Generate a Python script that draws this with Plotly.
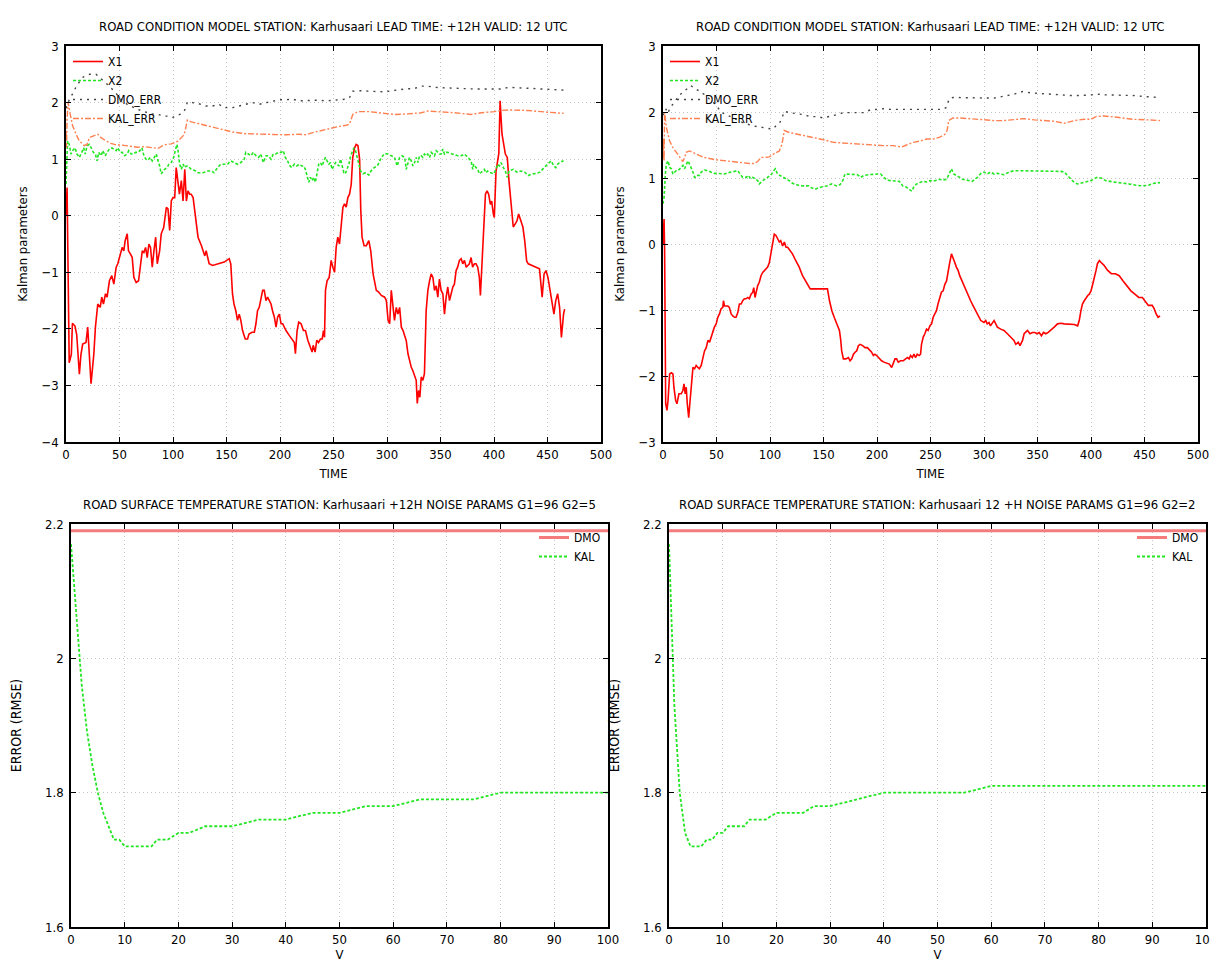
import plotly.graph_objects as go

# ---------------- data: top-left panel (G2=5) ----------------
TL_X1_T = [0, 1, 3, 5, 6, 8.4, 10, 12.5, 14, 15.6, 18.7, 20.3, 21, 23.4, 26, 27.5, 29.7, 32, 33.4, 35, 36.9, 38.4,
           40.6, 42.8, 44.7, 46.9, 48.4, 50.6, 52.5, 54, 55.3, 57.2, 58.4, 60.3, 61.9, 63.4, 65.6, 67.8, 69.7, 71.3,
           72.8, 74.4, 75.9, 77.5, 79, 80.6, 82.2, 83.8, 85.3, 87.5, 89, 91.3, 93.8, 95.3, 96.9, 98.4, 100, 101.6,
           103, 104.7, 106, 107.8, 109.4, 111, 112.5, 114, 115.6, 117, 118.8, 120.3, 123.4, 126.6, 129.7, 131,
           133.8, 137, 143, 147.8, 152.5, 154, 155.6, 157, 158.7, 160.3, 161.9, 163.4, 165, 167.5, 169.7, 171,
           173.8, 176, 177.5, 179, 180.6, 182.2, 183.8, 185.3, 186.9, 188.4, 190, 191.6, 193, 194.7, 196.3, 197.8,
           199.4, 201, 202.5, 205.6, 208.8, 211, 213.4, 214.4, 216, 217.5, 219.7, 221.9, 223.8, 226, 228, 230, 231,
           232.8, 234.4, 236, 237.8, 239.4, 240.6, 241.6, 242.5, 244, 246, 247.8, 249.4, 251, 252.5, 254, 255.6,
           257, 258.8, 260.3, 261.9, 263.4, 265, 266.6, 268, 269.7, 271.2, 272.8, 274.4, 275.5, 276.7, 278.6,
           280.7, 283, 284.8, 287, 288.5, 290, 292.2, 294.7, 297.8, 299.4, 301, 302.5, 304, 305.6, 307, 308.7,
           310.2, 311.8, 313.4, 315, 316.5, 318, 319.6, 321, 322.7, 324.2, 325.8, 327.3, 328.3, 329.5, 330.7, 332,
           333.5, 335, 336.6, 338.2, 339.8, 341.3, 342.9, 344.4, 346, 347.5, 349, 350.6, 352.2, 353.7, 355.3,
           356.8, 358.4, 360, 361.5, 363, 364.6, 366, 367.7, 369.3, 370.8, 372.4, 374, 375.5, 377, 378.6, 380,
           381.7, 383.2, 384.8, 386.3, 387.3, 388.8, 390.4, 392, 393.5, 395, 396.6, 397.8, 399.4, 400.3, 401.9,
           403.4, 404.5, 405.7, 407.5, 410.6, 412.4, 414, 416, 418, 419.7, 421.5, 423, 425, 427, 428.7, 430.5, 432,
           436, 440, 442.5, 445, 446.8, 448.6, 450.4, 452, 454, 456, 457.7, 459.5, 461.3, 463, 465, 466]
TL_X1_V = [0.0, 0.5, -2.6, -2.45, -1.9, -1.95, -2.1, -2.8, -2.45, -2.27, -2.24, -1.97, -2.2, -2.97, -2.45, -1.97,
           -1.56, -1.62, -1.44, -1.56, -1.38, -1.44, -1.15, -1.06, -1.21, -0.91, -0.85, -0.68, -0.56, -0.62, -0.44,
           -0.32, -0.62, -0.68, -0.74, -1.09, -1.18, -1.15, -0.85, -0.62, -0.65, -0.56, -0.74, -0.5, -0.56, -0.91,
           -0.62, -0.38, -0.85, -0.62, -0.32, -0.21, 0.15, 0.12, -0.26, 0.26, 0.32, 0.32, 0.85, 0.62, 0.38, 0.62,
           0.26, 0.82, 0.26, 0.44, 0.38, 0.38, 0.32, 0.09, -0.38, -0.53, -0.71, -0.62, -0.85, -0.88, -0.85, -0.82,
           -0.76, -0.85, -1.38, -1.56, -1.68, -1.85, -1.74, -1.85, -2.03, -2.18, -2.18, -2.09, -2.06, -2.06, -1.91,
           -1.68, -1.62, -1.44, -1.32, -1.32, -1.5, -1.44, -1.5, -1.56, -1.68, -1.79, -1.97, -1.79, -1.74, -1.91,
           -1.91, -2.03, -2.12, -2.18, -2.24, -2.44, -2.03, -1.88, -1.91, -2.03, -2.03, -2.2, -2.29, -2.41, -2.29,
           -2.41, -2.2, -2.24, -2.18, -2.18, -2.03, -2.15, -1.32, -1.15, -1.09, -0.79, -0.91, -1.0, -0.56, -0.38,
           -0.5, -0.26, 0.15, 0.21, 0.15, 0.32, 0.38, 0.56, 1.03, 1.2, 1.26, 1.24, 1.0, 0.09, -0.38, -0.53, -0.53,
           -0.44, -0.62, -1.03, -1.15, -1.32, -1.35, -1.41, -1.44, -1.5, -1.85, -1.91, -1.32, -1.68, -1.85, -1.62,
           -1.74, -1.62, -1.97, -2.03, -2.12, -2.21, -2.44, -2.56, -2.68, -2.74, -2.85, -2.91, -3.32, -3.09, -3.21,
           -2.85, -2.91, -2.79, -1.68, -1.32, -1.15, -1.03, -1.09, -1.32, -1.24, -1.44, -1.12, -1.32, -1.38, -1.74,
           -1.44, -1.26, -1.5, -1.38, -1.26, -1.21, -0.97, -0.91, -0.79, -0.76, -0.85, -0.79, -0.91, -0.88, -0.85,
           -0.74, -0.91, -0.85, -0.85, -0.91, -1.09, -1.41, -0.85, -0.32, 0.38, 0.44, 0.38, 0.2, 0.26, 0.03, -0.03,
           0.79, 1.03, 1.1, 2.03, 1.44, 1.09, 1.03, 0.62, 0.15, -0.2, -0.15, -0.09, 0.03, -0.09, -0.2, -0.44, -0.8,
           -0.85, -0.88, -0.91, -0.94, -1.44, -1.03, -0.97, -1.09, -1.27, -1.5, -1.74, -1.5, -1.38, -1.62, -2.15,
           -1.74, -1.65]

TL_X2_T = [0, 1.5, 3, 4.7, 6.2, 8.4, 10.3, 12.5, 14.7, 16.6, 18, 19.7, 21.9, 23.4, 25.6, 27.5, 29, 30.6, 32.8, 34.4,
           36.6, 38.4, 40.6, 42.8, 44.7, 46.9, 48.4, 50.6, 52.5, 54.7, 57.2, 58.7, 61, 63, 65, 67.2, 69, 71, 72.8,
           74.7, 76.6, 78.7, 80.6, 82.8, 84.4, 86, 87.5, 89, 90.6, 92.2, 94.4, 96.2, 98.4, 100.6, 102.5, 103.7,
           104.7, 106.2, 107.8, 109.4, 111, 112.5, 114, 117, 120.3, 123.4, 128, 132.8, 136, 138.4, 141.6, 144.7,
           147.8, 151, 154, 157, 160.3, 163.4, 166.6, 168, 170.6, 172.8, 175, 177.5, 180, 182, 184.4, 186.9, 189,
           191.6, 193.7, 196, 198.7, 201, 203, 205, 207, 209.4, 211, 213.4, 215.6, 218, 220.3, 222, 223.7, 225.3,
           226.9, 228.4, 230, 231.6, 233, 234.7, 236.2, 237.8, 239.4, 241, 242.5, 244, 245.6, 247.2, 248.7, 250.3,
           252, 253.4, 255, 256.6, 258, 259.7, 261, 262.8, 264.4, 266, 267.5, 269, 270.6, 272, 273.7, 275.3, 277.5,
           280, 283, 285, 288, 291, 294.7, 297.8, 301, 304, 307, 309.6, 311.8, 314, 316.5, 318, 319.6, 321, 322.7,
           324.2, 325.8, 327.3, 329, 330.4, 332, 333.5, 335, 336.6, 338, 339.8, 341.3, 342.9, 344.4, 346, 347.5,
           349, 350.6, 352.2, 353.7, 355.3, 356.8, 360, 363, 366, 369.3, 372.4, 374, 375.5, 377, 378.6, 380.1, 381,
           383.2, 384.8, 386.3, 388, 389.4, 391, 392.5, 394, 395.7, 397, 399.7, 402, 403.4, 405, 406.5, 408.8,
           410.6, 412.4, 414, 418, 421.5, 425, 428.7, 432, 436, 440, 443, 446.8, 450.4, 453.3, 456, 457.7, 459.5,
           461.3, 465]
TL_X2_V = [0.56, 1.32, 1.26, 1.09, 1.15, 1.2, 1.09, 1.03, 1.12, 1.2, 1.09, 1.24, 1.26, 1.2, 1.12, 1.09, 0.97, 1.12,
           1.06, 1.15, 1.06, 1.12, 1.18, 1.2, 1.18, 1.15, 1.2, 1.12, 1.12, 1.06, 1.09, 1.15, 1.09, 1.09, 1.12, 1.12,
           1.15, 1.2, 1.06, 1.0, 0.98, 1.03, 0.97, 1.03, 1.09, 0.97, 0.88, 0.74, 0.79, 0.82, 0.85, 0.91, 0.94, 1.03,
           1.18, 1.26, 1.15, 0.91, 0.82, 0.91, 0.85, 0.88, 0.88, 0.82, 0.8, 0.76, 0.76, 0.79, 0.79, 0.76, 0.85, 0.91,
           0.91, 0.91, 0.97, 0.94, 0.91, 0.94, 1.0, 1.12, 1.09, 1.06, 1.12, 1.06, 1.03, 1.09, 0.94, 1.06, 1.06, 1.0,
           1.09, 1.09, 1.12, 1.12, 1.15, 1.03, 0.97, 0.88, 0.85, 0.91, 0.88, 0.91, 0.88, 0.88, 0.82, 0.68, 0.59,
           0.68, 0.62, 0.68, 0.59, 0.76, 0.91, 0.94, 0.88, 0.97, 1.03, 0.97, 0.91, 0.94, 0.82, 0.88, 0.94, 0.91,
           0.88, 1.0, 0.91, 0.76, 0.74, 0.85, 0.91, 1.06, 1.15, 1.2, 1.15, 1.03, 0.91, 0.79, 0.74, 0.76, 0.72, 0.79,
           0.85, 0.88, 1.03, 1.1, 1.09, 1.06, 1.03, 0.88, 1.03, 1.06, 1.03, 0.82, 0.94, 1.03, 0.97, 0.88, 0.94,
           1.03, 0.94, 1.06, 1.06, 1.03, 1.09, 1.06, 1.09, 1.03, 1.12, 1.09, 1.06, 1.15, 1.12, 1.09, 1.09, 1.18,
           1.09, 1.12, 1.12, 1.1, 1.09, 1.06, 1.06, 1.09, 1.06, 1.03, 1.0, 0.97, 0.82, 0.91, 0.85, 0.82, 0.74, 0.76,
           0.79, 0.82, 0.76, 0.79, 0.76, 0.76, 0.74, 0.82, 0.91, 0.88, 0.94, 0.85, 0.79, 0.68, 0.79, 0.82, 0.77,
           0.79, 0.77, 0.71, 0.74, 0.75, 0.77, 0.85, 0.91, 0.97, 0.88, 0.85, 0.91, 0.94, 0.97]

TL_DMO_T = [0, 3, 6, 10, 16, 22, 28, 34, 40, 46, 52, 57, 62, 67, 73, 80, 86, 92, 97, 100, 104.7, 108, 111, 113.5,
            118, 124, 130.6, 137, 143, 147.8, 155.6, 162, 168, 174.4, 180.6, 187, 193, 199.4, 205.6, 212, 218,
            224.4, 230.6, 237, 243, 249, 255.6, 262, 265, 268, 274, 280, 285, 297.8, 307, 316.5, 325.8, 332, 338,
            344.4, 353.7, 363, 372.4, 381.7, 394, 406.5, 414, 432, 450, 465]
TL_DMO_V = [1.9, 2.05, 2.15, 2.3, 2.45, 2.5, 2.5, 2.4, 2.3, 2.18, 2.05, 1.97, 1.92, 1.88, 1.84, 1.8, 1.79, 1.76,
            1.76, 1.74, 1.78, 1.8, 1.87, 2.01, 2.0, 1.98, 1.94, 1.94, 1.97, 1.91, 1.91, 1.94, 1.97, 2.0, 1.97, 2.0,
            2.03, 2.05, 2.05, 2.06, 2.03, 2.04, 2.04, 2.04, 2.03, 2.04, 2.05, 2.06, 2.09, 2.2, 2.21, 2.2, 2.2, 2.19,
            2.22, 2.24, 2.25, 2.29, 2.29, 2.27, 2.26, 2.25, 2.24, 2.24, 2.24, 2.24, 2.27, 2.25, 2.24, 2.22]

TL_KAL_T = [0, 0.5, 1, 2, 4, 6.2, 9.4, 12.5, 17, 19.7, 21.9, 25, 29.7, 32.8, 37.5, 42, 46.9, 51.6, 56.2, 61, 67,
            73.4, 79.7, 86, 90.6, 93.7, 98.4, 104.7, 109.4, 111, 113.4, 117, 123.4, 129.7, 135, 143, 155.6, 168,
            180.6, 193, 205.6, 218, 224.4, 230.6, 237, 243, 249, 255.6, 262, 265, 268, 272.8, 283, 294.7, 307,
            319.6, 332, 338, 350.6, 363, 378.6, 388, 400.3, 406.5, 414, 432, 450, 465]
TL_KAL_V = [1.5, 1.2, 1.7, 2.0, 1.79, 1.59, 1.44, 1.32, 1.24, 1.26, 1.38, 1.4, 1.44, 1.38, 1.32, 1.28, 1.25, 1.25,
            1.24, 1.22, 1.21, 1.22, 1.21, 1.19, 1.24, 1.26, 1.27, 1.32, 1.41, 1.47, 1.69, 1.66, 1.63, 1.6, 1.57,
            1.53, 1.48, 1.45, 1.44, 1.43, 1.43, 1.44, 1.43, 1.47, 1.5, 1.53, 1.55, 1.58, 1.6, 1.62, 1.79, 1.84,
            1.84, 1.82, 1.79, 1.8, 1.82, 1.85, 1.84, 1.82, 1.79, 1.82, 1.84, 1.86, 1.87, 1.86, 1.83, 1.81]

# ---------------- data: top-right panel (G2=2) ----------------
TR_X1_T = [0, 1, 1.5, 2.5, 3.7, 4.7, 6.2, 7.8, 9.3, 10.2, 11.8, 13, 14.9, 17, 18.6, 19.6, 20.8, 21.7, 22.7, 24,
           24.8, 26.4, 28, 29.5, 31, 32.6, 34, 35.7, 37.3, 38.8, 40.4, 42, 43.5, 45, 46.6, 48, 49.7, 51.2, 52.8,
           54.3, 55.9, 56.5, 57.5, 59, 60.6, 62, 63.7, 65.2, 66.8, 68.3, 69.9, 71.4, 73, 74.5, 76, 77.6, 79.2,
           80.7, 82.3, 83.9, 84.8, 86, 87, 88.5, 90, 91.6, 93.2, 94.7, 96.3, 97.8, 99.4, 101, 102.5, 104, 105.6,
           107, 108.7, 110, 111.8, 113.4, 115, 116.5, 118, 121, 124, 127.3, 130.4, 133.5, 136, 137.6, 143.8, 150,
           153.7, 155.6, 157.8, 160, 162.4, 164.9, 166, 167, 168.6, 171, 173.3, 174.8, 176.4, 178, 179.5, 181,
           182.6, 184.2, 186.6, 188.8, 191, 193.5, 195, 196.6, 198, 199.7, 202.2, 204.3, 206.5, 209, 211.5, 213.7,
           215.2, 216.8, 218.3, 219.9, 222, 224.5, 226.7, 228.6, 230, 231.4, 233, 234.5, 236, 237.6, 239.4, 240.7,
           241.6, 243.2, 244.7, 246.3, 247.8, 249.4, 251, 252.5, 254, 255.6, 257, 258.7, 260.2, 261.8, 263.4, 265,
           266.5, 268, 269.6, 271, 272.7, 274.2, 275.8, 277.3, 279.8, 281, 284.4, 287.5, 290.6, 293.8, 297, 300,
           301.6, 303, 304.7, 306, 309.4, 311, 312.5, 315.6, 318.7, 321.9, 325, 328, 329.7, 332, 333.7, 336, 337.5,
           339, 340.6, 343, 345.3, 347.5, 349.4, 351.6, 353.7, 355.6, 357.8, 360, 362.5, 364, 365.6, 368.7, 371.9,
           375, 378, 381, 384.4, 387.5, 389, 390.6, 392, 393.7, 395.3, 397, 398.4, 400, 401.6, 403, 404.7, 406,
           407.8, 409.4, 411, 412, 415.6, 419, 422.8, 426.4, 430, 433.7, 437.3, 441, 444.6, 448, 450.7, 453.6,
           457.2, 459, 460.9, 462.7, 464.5]
TR_X1_V = [0.0, 0.38, -0.1, -2.42, -2.52, -2.37, -1.97, -1.95, -1.97, -2.17, -2.37, -2.42, -2.27, -2.27, -2.22,
           -2.12, -2.27, -2.17, -2.42, -2.63, -2.47, -2.22, -1.87, -1.89, -1.84, -1.87, -1.89, -1.84, -1.72, -1.62,
           -1.57, -1.46, -1.49, -1.41, -1.31, -1.26, -1.21, -1.11, -1.06, -0.98, -0.96, -0.86, -0.94, -0.94, -0.94,
           -0.96, -1.06, -1.09, -1.11, -1.11, -1.04, -0.91, -0.91, -0.86, -0.83, -0.83, -0.81, -0.83, -0.76, -0.73,
           -0.66, -0.81, -0.71, -0.63, -0.58, -0.48, -0.43, -0.4, -0.38, -0.35, -0.28, -0.15, 0.0, 0.15, 0.13, 0.08,
           0.03, 0.05, -0.03, 0.03, -0.05, -0.05, -0.08, -0.15, -0.25, -0.35, -0.48, -0.56, -0.63, -0.68, -0.68,
           -0.68, -0.68, -0.86, -1.01, -1.11, -1.21, -1.31, -1.44, -1.62, -1.74, -1.74, -1.72, -1.77, -1.74, -1.67,
           -1.64, -1.62, -1.54, -1.52, -1.54, -1.57, -1.57, -1.62, -1.64, -1.69, -1.67, -1.69, -1.74, -1.77, -1.79,
           -1.81, -1.82, -1.87, -1.79, -1.74, -1.74, -1.79, -1.77, -1.77, -1.74, -1.72, -1.74, -1.69, -1.72, -1.67,
           -1.72, -1.67, -1.69, -1.67, -1.52, -1.41, -1.36, -1.29, -1.31, -1.24, -1.21, -1.11, -1.06, -1.01, -0.91,
           -0.81, -0.73, -0.71, -0.61, -0.56, -0.4, -0.28, -0.15, -0.2, -0.28, -0.35, -0.4, -0.48, -0.58, -0.63,
           -0.76, -0.86, -0.96, -1.06, -1.16, -1.19, -1.16, -1.21, -1.19, -1.24, -1.16, -1.21, -1.26, -1.29, -1.31,
           -1.36, -1.41, -1.46, -1.52, -1.49, -1.54, -1.46, -1.36, -1.34, -1.31, -1.36, -1.34, -1.34, -1.36, -1.34,
           -1.39, -1.34, -1.36, -1.34, -1.31, -1.29, -1.26, -1.21, -1.2, -1.21, -1.21, -1.22, -1.22, -1.24, -1.16,
           -1.01, -0.91, -0.86, -0.81, -0.78, -0.76, -0.71, -0.61, -0.53, -0.4, -0.3, -0.25, -0.28, -0.3, -0.32,
           -0.4, -0.45, -0.45, -0.48, -0.56, -0.63, -0.71, -0.76, -0.81, -0.81, -0.86, -0.93, -0.93, -0.98, -1.06,
           -1.11, -1.09]

TR_X2_T = [0, 1, 2.2, 3.1, 4.7, 6.2, 7.8, 9.3, 10.9, 12.4, 14, 15.5, 17, 18.6, 20.2, 21.7, 23.3, 24.8, 26.4, 28,
           29.5, 31, 32.6, 34.2, 35.7, 37.3, 38.8, 42, 45, 48, 51.2, 54.3, 57.5, 60.6, 63.7, 66.8, 69.9, 72, 74.5,
           77.6, 79.8, 81.7, 83.9, 86, 88.5, 90, 93.2, 96.3, 99.4, 101.6, 103.4, 105, 107, 109.3, 111.8, 115, 118,
           121, 124, 130.4, 136, 137.6, 142, 147, 153, 157.8, 162.4, 165.5, 168, 170, 173.3, 178, 181.7, 184.8,
           187.9, 192, 196.6, 200.3, 203.4, 206.5, 209, 212.7, 216.8, 220.8, 224, 227.6, 230.7, 232.6, 234.5, 237,
           240, 243, 246.3, 249.4, 252.5, 255.6, 258.7, 261.8, 265, 267.4, 269.6, 271.7, 274.2, 277.3, 280, 284.4,
           289, 293.8, 297, 300, 303, 306, 309.4, 312.5, 315.6, 318.7, 323.4, 328, 334, 340.6, 346.9, 353, 359,
           365.6, 371.9, 375, 378, 381, 384.4, 387.5, 390.6, 393.7, 397, 400, 403, 406, 409.4, 413.8, 421, 428,
           435.5, 442.7, 448, 453.6, 459, 464.5]
TR_X2_V = [0.61, 0.71, 1.06, 1.21, 1.26, 1.16, 1.14, 1.06, 1.09, 1.11, 1.11, 1.14, 1.16, 1.19, 1.14, 1.19, 1.26,
           1.21, 1.16, 1.09, 1.01, 1.01, 1.04, 1.04, 1.09, 1.11, 1.12, 1.11, 1.09, 1.07, 1.07, 1.07, 1.06, 1.08,
           1.09, 1.1, 1.11, 1.06, 1.01, 1.01, 1.04, 0.99, 1.01, 0.99, 0.96, 0.91, 0.96, 0.99, 1.04, 1.06, 1.11,
           1.14, 1.06, 1.04, 1.01, 0.99, 0.96, 0.92, 0.9, 0.88, 0.88, 0.86, 0.83, 0.86, 0.88, 0.91, 0.88, 0.9, 0.96,
           1.06, 1.06, 1.06, 1.05, 1.01, 1.04, 1.05, 1.06, 1.06, 1.06, 1.01, 0.97, 0.96, 0.96, 0.95, 0.88, 0.86,
           0.82, 0.8, 0.87, 0.91, 0.93, 0.95, 0.94, 0.96, 0.95, 0.96, 0.98, 0.97, 0.98, 1.06, 1.14, 1.06, 1.04,
           1.01, 0.98, 0.96, 0.95, 1.01, 1.07, 1.09, 1.06, 1.09, 1.06, 1.07, 1.06, 1.05, 1.09, 1.11, 1.11, 1.11,
           1.11, 1.11, 1.11, 1.11, 1.1, 1.09, 1.04, 0.98, 0.93, 0.91, 0.92, 0.93, 0.95, 0.96, 0.99, 1.01, 1.0, 0.96,
           0.94, 0.92, 0.91, 0.89, 0.88, 0.89, 0.92, 0.93]

TR_DMO_T = [0, 2.5, 4.5, 6.8, 9.3, 15, 26, 34, 40, 45, 50, 54, 63.7, 74.5, 84, 93, 102.5, 105.6, 108.7, 111.8,
            113.4, 118, 124, 131.4, 137.6, 143.8, 150, 156.2, 162.4, 168.6, 181, 187.3, 193.5, 199.7, 205.9, 212,
            224.5, 237, 249.4, 261.8, 265, 267.4, 271, 277.3, 290.6, 300, 309.4, 318.7, 328, 336, 343.7, 353, 362.5,
            371.9, 381, 390.6, 400, 409.4, 413.8, 424.6, 439, 453.6, 464.5]
TR_DMO_V = [1.95, 2.05, 1.98, 2.07, 2.12, 2.25, 2.4, 2.32, 2.25, 2.17, 2.1, 2.0, 1.92, 1.84, 1.79, 1.77, 1.74,
            1.79, 1.82, 1.94, 2.01, 1.99, 1.98, 1.96, 1.93, 1.93, 1.91, 1.93, 1.96, 1.99, 1.99, 1.99, 2.03, 2.04,
            2.05, 2.04, 2.04, 2.05, 2.04, 2.04, 2.07, 2.2, 2.22, 2.22, 2.21, 2.21, 2.21, 2.24, 2.27, 2.31, 2.29,
            2.28, 2.27, 2.25, 2.25, 2.25, 2.26, 2.27, 2.26, 2.26, 2.25, 2.23, 2.22]

TR_KAL_T = [0, 0.5, 1, 1.5, 3.1, 4.7, 6.2, 9.3, 12.4, 15.5, 18.6, 20.2, 21.7, 24.8, 28, 31, 34.2, 38.8, 43.5, 48,
            52.8, 57.5, 62, 66.8, 71.4, 76, 80.7, 85.4, 88.5, 91.6, 94.7, 99.4, 104, 108.7, 111.2, 113.4, 118, 124,
            131.4, 140.7, 150, 159.3, 168.6, 178, 187.3, 196.6, 205.9, 215.2, 223, 227.6, 233.9, 240, 246.3, 252.5,
            258.7, 263.4, 265.5, 267, 271, 277.3, 290.6, 300, 309.4, 318.7, 328, 337.5, 347, 356, 365.6, 375, 384.4,
            393.7, 400, 404.7, 409.4, 412, 424.6, 439, 453.6, 464.5]
TR_KAL_V = [1.3, 1.6, 1.25, 2.0, 1.77, 1.64, 1.56, 1.46, 1.39, 1.31, 1.25, 1.31, 1.39, 1.41, 1.39, 1.36, 1.34, 1.31,
            1.29, 1.28, 1.27, 1.26, 1.25, 1.24, 1.23, 1.22, 1.22, 1.22, 1.25, 1.31, 1.31, 1.32, 1.37, 1.41, 1.51,
            1.72, 1.69, 1.67, 1.65, 1.62, 1.58, 1.54, 1.53, 1.52, 1.51, 1.49, 1.49, 1.49, 1.47, 1.5, 1.54, 1.56,
            1.59, 1.59, 1.62, 1.66, 1.72, 1.87, 1.91, 1.91, 1.89, 1.88, 1.87, 1.87, 1.88, 1.9, 1.88, 1.87, 1.86,
            1.83, 1.87, 1.89, 1.89, 1.93, 1.94, 1.94, 1.92, 1.89, 1.88, 1.87]

# ---------------- data: bottom panels (RMSE vs V) ----------------
BL_V = [0, 1, 2, 3, 4, 5, 6, 7, 8, 9, 10, 15, 16, 18, 20, 22, 25, 30, 35, 40, 45, 50, 55, 60, 65, 75, 80, 100]
BL_KAL = [2.17, 2.06, 1.96, 1.89, 1.84, 1.80, 1.77, 1.75, 1.73, 1.73, 1.72, 1.72, 1.73, 1.73, 1.74, 1.74, 1.75,
          1.75, 1.76, 1.76, 1.77, 1.77, 1.78, 1.78, 1.79, 1.79, 1.80, 1.80]
BL_DMO = [2.19] * len(BL_V)

BR_V = [0, 1, 2, 3, 4, 6, 7, 8, 9, 10, 11, 14, 15, 18, 20, 25, 27, 30, 40, 55, 60, 100]
BR_KAL = [2.17, 1.93, 1.80, 1.74, 1.72, 1.72, 1.73, 1.73, 1.74, 1.74, 1.75, 1.75, 1.76, 1.76, 1.77, 1.77, 1.78,
          1.78, 1.80, 1.80, 1.81, 1.81]
BR_DMO = [2.19] * len(BR_V)

TOP_TITLE = "ROAD CONDITION MODEL STATION: Karhusaari LEAD TIME: +12H VALID: 12 UTC"
BL_TITLE = "ROAD SURFACE TEMPERATURE STATION: Karhusaari +12H NOISE PARAMS G1=96 G2=5"
BR_TITLE = "ROAD SURFACE TEMPERATURE STATION: Karhusaari 12 +H NOISE PARAMS G1=96 G2=2"

# ---------------- styling ----------------
FONT = "Liberation Sans Narrow, Arial Narrow, DejaVu Sans Condensed, Liberation Sans, sans-serif"
W, H = 1218, 963
RED = "#ff0000"
GREEN = "#22e622"
GRAY = "#444444"
ORANGE = "#ff8050"
PINK = "#f47c7c"


def px_x(p):
    return p / W


def px_y(p):
    return 1 - p / H


fig = go.Figure()


def add_top(xa, ya, lg, T1, V1, T2, V2, T3, V3, T4, V4):
    fig.add_trace(go.Scatter(x=T1, y=V1, name="X1", mode="lines", xaxis=xa, yaxis=ya, legend=lg,
                             line=dict(color=RED, width=1.6)))
    fig.add_trace(go.Scatter(x=T2, y=V2, name="X2", mode="lines", xaxis=xa, yaxis=ya, legend=lg,
                             line=dict(color=GREEN, width=1.6, dash="3px,2px")))
    fig.add_trace(go.Scatter(x=T3, y=V3, name="DMO_ERR", mode="lines", xaxis=xa, yaxis=ya, legend=lg,
                             line=dict(color=GRAY, width=1.4, dash="2px,5px")))
    fig.add_trace(go.Scatter(x=T4, y=V4, name="KAL_ERR", mode="lines", xaxis=xa, yaxis=ya, legend=lg,
                             line=dict(color=ORANGE, width=1.4, dash="6px,2px,2px,2px")))


add_top("x", "y", "legend", TL_X1_T, TL_X1_V, TL_X2_T, TL_X2_V, TL_DMO_T, TL_DMO_V, TL_KAL_T, TL_KAL_V)
add_top("x2", "y2", "legend2", TR_X1_T, TR_X1_V, TR_X2_T, TR_X2_V, TR_DMO_T, TR_DMO_V, TR_KAL_T, TR_KAL_V)

for xa, ya, lg, V, D, K in [("x3", "y3", "legend3", BL_V, BL_DMO, BL_KAL),
                            ("x4", "y4", "legend4", BR_V, BR_DMO, BR_KAL)]:
    fig.add_trace(go.Scatter(x=V, y=D, name="DMO", mode="lines", xaxis=xa, yaxis=ya, legend=lg,
                             line=dict(color=PINK, width=3)))
    fig.add_trace(go.Scatter(x=V, y=K, name="KAL", mode="lines", xaxis=xa, yaxis=ya, legend=lg,
                             line=dict(color=GREEN, width=1.8, dash="3px,2px")))

# panel geometry (pixels)
PANELS = {
    1: dict(x0=58, x1=593, y0=38, y1=434),
    2: dict(x0=655, x1=1190, y0=38, y1=434),
    3: dict(x0=63, x1=600, y0=516, y1=919),
    4: dict(x0=661, x1=1198, y0=516, y1=919),
}


def axis_common():
    return dict(showline=True, linecolor="black", linewidth=1.5, mirror="allticks", ticks="inside",
                ticklen=5, tickcolor="black", showgrid=True, gridcolor="#c4c4c4", griddash="1px,3px",
                gridwidth=1, zeroline=False, automargin=False,
                tickfont=dict(family=FONT, size=13, color="black"))


layout = dict(width=W, height=H, autosize=False, margin=dict(l=0, r=0, t=0, b=0),
              plot_bgcolor="white", paper_bgcolor="white", showlegend=True,
              font=dict(family=FONT, color="black"))

xr = {1: [0, 500], 2: [0, 500], 3: [0, 100], 4: [0, 100]}
yr = {1: [-4, 3], 2: [-3, 3], 3: [1.6, 2.2], 4: [1.6, 2.2]}
xd = {1: 50, 2: 50, 3: 10, 4: 10}
yd = {1: 1, 2: 1, 3: 0.2, 4: 0.2}
xt = {1: "TIME", 2: "TIME", 3: "V", 4: "V"}
ytl = {1: "Kalman parameters", 2: "Kalman parameters", 3: "ERROR (RMSE)", 4: "ERROR (RMSE)"}
xstand = {1: 8, 2: 8, 3: 0, 4: 0}
ystand = {1: 11, 2: 11, 3: 20, 4: 20}
ysize = {1: 13, 2: 13, 3: 14, 4: 14}

for i in range(1, 5):
    p = PANELS[i]
    sx = "" if i == 1 else str(i)
    xa = axis_common()
    xa.update(domain=[px_x(p["x0"]), px_x(p["x1"])], range=xr[i], dtick=xd[i], tick0=0,
              anchor="y" + sx, title=dict(text=xt[i], font=dict(family=FONT, size=13), standoff=xstand[i]))
    ya = axis_common()
    ya.update(domain=[px_y(p["y1"]), px_y(p["y0"])], range=yr[i], dtick=yd[i], tick0=0,
              anchor="x" + sx, ticklabelstandoff=3,
              title=dict(text=ytl[i], font=dict(family=FONT, size=ysize[i]), standoff=ystand[i]))
    layout["xaxis" + sx] = xa
    layout["yaxis" + sx] = ya

leg_common = dict(bgcolor="rgba(0,0,0,0)", borderwidth=0, font=dict(family=FONT, size=12),
                  tracegroupgap=0, itemwidth=30)
layout["legend"] = dict(leg_common, x=px_x(60), y=px_y(39), xanchor="left", yanchor="top")
layout["legend2"] = dict(leg_common, x=px_x(657), y=px_y(39), xanchor="left", yanchor="top")
layout["legend3"] = dict(leg_common, x=px_x(598), y=px_y(515), xanchor="right", yanchor="top")
layout["legend4"] = dict(leg_common, x=px_x(1196), y=px_y(515), xanchor="right", yanchor="top")

titles = [(TOP_TITLE, (58 + 593) / 2, 18), (TOP_TITLE, (655 + 1190) / 2, 18),
          (BL_TITLE, (63 + 600) / 2, 496), (BR_TITLE, (661 + 1198) / 2, 496)]
layout["annotations"] = [dict(text=t, x=px_x(cx), y=px_y(cy), xref="paper", yref="paper", showarrow=False,
                              xanchor="center", yanchor="middle", font=dict(family=FONT, size=13, color="black"))
                         for t, cx, cy in titles]

fig.update_layout(**layout)
fig.write_html("out.html")
